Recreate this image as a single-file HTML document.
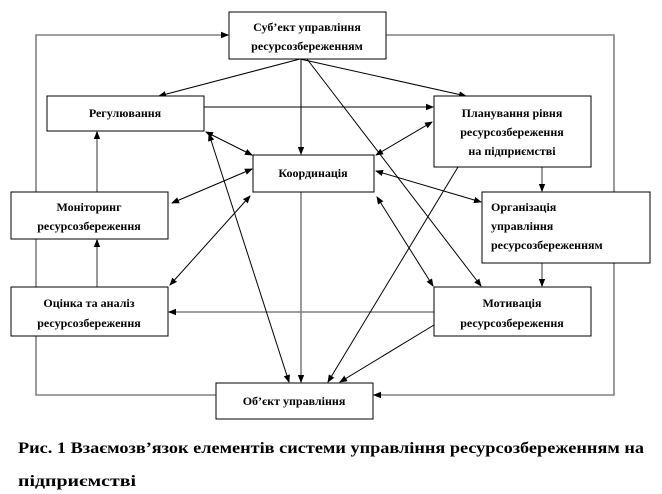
<!DOCTYPE html>
<html><head><meta charset="utf-8"><style>
body{margin:0;background:#fff;}
svg{display:block;}
text{font-family:"Liberation Serif","DejaVu Serif",serif;font-weight:bold;font-size:12px;fill:#000;}
.c{font-size:16px;font-weight:bold;}
</style></head><body>
<svg width="662" height="494" viewBox="0 0 662 494" xmlns="http://www.w3.org/2000/svg">
<defs>
<marker id="a" markerWidth="8" markerHeight="8" refX="7" refY="4" orient="auto" markerUnits="userSpaceOnUse"><path d="M0,0.8 L8,4 L0,7.2z" fill="#000"/></marker>
<marker id="s" markerWidth="8" markerHeight="8" refX="1" refY="4" orient="auto" markerUnits="userSpaceOnUse"><path d="M8,0.8 L0,4 L8,7.2z" fill="#000"/></marker>
</defs>
<g fill="none" stroke="#808080" stroke-width="1.6">
<polyline points="36,192 36,35 228,35" marker-end="url(#a)"/>
<line x1="36" y1="239" x2="36" y2="287"/>
<polyline points="36,336 36,395 216,395"/>
<polyline points="386,35 614,35 614,192"/>
<polyline points="614,263 614,395 374,395" marker-end="url(#a)"/>
<line x1="97" y1="192" x2="97" y2="132" marker-end="url(#a)"/>
<line x1="97" y1="287" x2="97" y2="240" marker-end="url(#a)"/>
<line x1="434" y1="312" x2="169" y2="312" marker-end="url(#a)"/>
<line x1="301" y1="192" x2="301" y2="382" marker-end="url(#a)"/>
<line x1="542" y1="167" x2="542" y2="191" marker-end="url(#a)"/>
<line x1="542" y1="263" x2="542" y2="286" marker-end="url(#a)"/>
</g>
<g fill="none" stroke="#000" stroke-width="1">
<line x1="300" y1="59" x2="159" y2="96" marker-end="url(#a)"/>
<line x1="301" y1="59" x2="301" y2="154" marker-end="url(#a)"/>
<line x1="300" y1="59" x2="466" y2="96" marker-end="url(#a)"/>
<line x1="307" y1="59" x2="481" y2="286" marker-end="url(#a)"/>
<line x1="204" y1="107" x2="433" y2="107" marker-end="url(#a)"/>
<line x1="206" y1="132" x2="252" y2="155" marker-start="url(#s)" marker-end="url(#a)"/>
<line x1="432" y1="122" x2="376" y2="155" marker-start="url(#s)" marker-end="url(#a)"/>
<line x1="376" y1="171" x2="481" y2="202" marker-start="url(#s)" marker-end="url(#a)"/>
<line x1="252" y1="169" x2="172" y2="203" marker-end="url(#a)" marker-start="url(#s)"/>
<line x1="250" y1="196" x2="170" y2="285" marker-start="url(#s)" marker-end="url(#a)"/>
<line x1="377" y1="197" x2="433" y2="286" marker-start="url(#s)" marker-end="url(#a)"/>
<line x1="209" y1="134" x2="289" y2="382" marker-start="url(#s)" marker-end="url(#a)"/>
<line x1="458" y1="167" x2="328" y2="382" marker-end="url(#a)"/>
<line x1="434" y1="325" x2="340" y2="382" marker-end="url(#a)"/>
</g>
<g fill="#fff" stroke="#000" stroke-width="1">
<rect x="229" y="12" width="157" height="47"/>
<rect x="47" y="96" width="157" height="35"/>
<rect x="434" y="96" width="157" height="71"/>
<rect x="253" y="155" width="121" height="37"/>
<rect x="11" y="192" width="157" height="47"/>
<rect x="482" y="192" width="168" height="71"/>
<rect x="11" y="287" width="157" height="49"/>
<rect x="434" y="287" width="157" height="49"/>
<rect x="216" y="383" width="157" height="36"/>
</g>
<g text-anchor="middle">
<text x="307" y="31">Суб’ект управління</text>
<text x="307" y="50">ресурсозбереженням</text>
<text x="125" y="117">Регулювання</text>
<text x="512" y="117">Планування рівня</text>
<text x="512" y="136">ресурсозбереження</text>
<text x="512" y="155">на підприємстві</text>
<text x="313" y="177">Координація</text>
<text x="89" y="211">Моніторинг</text>
<text x="89" y="230">ресурсозбереження</text>
<text x="89" y="307">Оцінка та аналіз</text>
<text x="89" y="327">ресурсозбереження</text>
<text x="512" y="307">Мотивація</text>
<text x="512" y="327">ресурсозбереження</text>
<text x="294" y="405">Об’єкт управління</text>
</g>
<g text-anchor="start">
<text x="491" y="211">Організація</text>
<text x="491" y="230">управління</text>
<text x="491" y="249">ресурсозбереженням</text>
</g>
<text class="c" x="18" y="453" textLength="626" lengthAdjust="spacingAndGlyphs">Рис. 1 Взаємозв’язок елементів системи управління ресурсозбереженням на</text>
<text class="c" x="18" y="486" textLength="118" lengthAdjust="spacingAndGlyphs">підприємстві</text>
</svg>
</body></html>
